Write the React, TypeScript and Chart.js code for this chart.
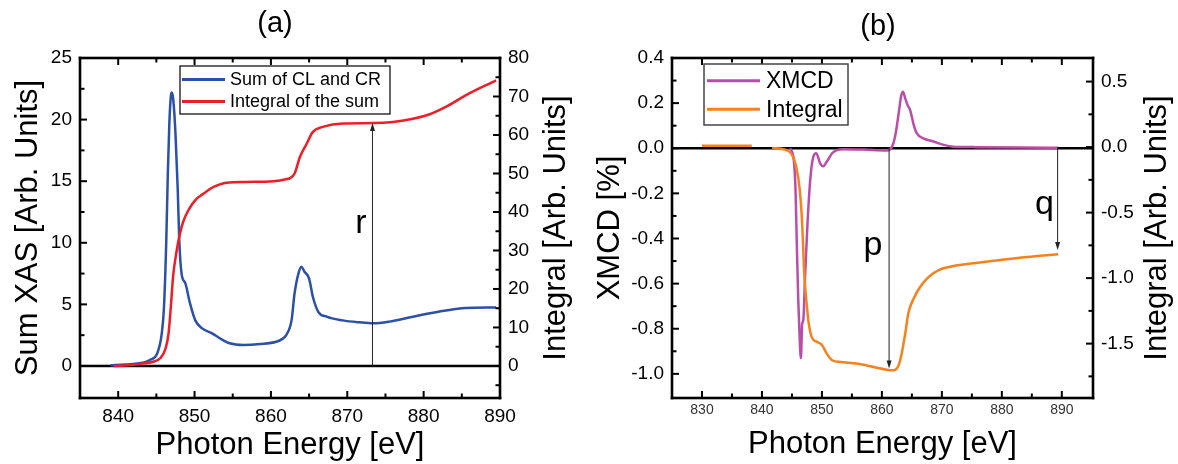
import React, { useEffect, useRef, useState } from "react";
import { Chart, registerables } from "chart.js";

Chart.register(...registerables);

const FONT = "'Liberation Sans', Arial, Helvetica, sans-serif";

// ---------------- Panel (a) data ----------------
const sumEnergy = [
  839.0, 841.0, 842.5, 843.5, 844.2, 845.1, 845.7, 846.0, 846.3, 846.5, 846.7, 846.9, 847.0,
  847.2, 847.5, 847.8, 848.0, 848.3, 848.8, 849.4, 850.1, 851.0, 852.3, 853.3, 854.6, 856.4,
  858.6, 860.7, 861.5, 862.0, 862.7, 863.1, 863.6, 864.0, 864.4, 865.0, 865.5, 866.2, 867.3,
  869.4, 871.6, 873.4, 875.5, 878.6, 882.9, 885.5, 889.5,
];
const sumXAS = [
  0.05, 0.12, 0.2, 0.3, 0.5, 1.0, 2.6, 4.8, 10.2, 15.6, 19.7, 21.9, 22.2,
  21.7, 18.9, 14.3, 10.2, 7.5, 6.7, 5.1, 3.7, 3.05, 2.65, 2.25, 1.84, 1.7,
  1.78, 1.97, 2.2, 2.5, 3.7, 5.9, 7.5, 8.05, 7.65, 7.1, 5.6, 4.4, 4.0,
  3.7, 3.54, 3.46, 3.6, 4.0, 4.5, 4.7, 4.75,
];
const sumIntEnergy = [
  839.4, 842.0, 843.5, 844.6, 845.5, 846.2, 846.6, 846.9, 847.2, 847.6, 848.0, 848.5, 849.2,
  850.1, 851.2, 852.5, 854.2, 856.8, 860.3, 862.0, 862.5, 863.1, 863.8, 864.7, 865.5, 866.8,
  869.4, 873.4, 876.0, 878.6, 880.8, 882.9, 885.5, 889.5,
];
const sumIntegral = [
  0, 0.3, 0.7, 1.1, 2.0, 4.5, 8.5, 15.5, 23.5, 29.2, 33.6, 37.4, 40.5,
  43.1, 44.8, 46.5, 47.6, 47.8, 48.0, 48.5, 48.8, 50.0, 54.3, 57.8, 60.8, 62.1,
  63.0, 63.1, 63.4, 64.2, 65.4, 67.3, 70.3, 74.2,
];

// ---------------- Panel (b) data ----------------
const xmcdEnergy = [
  844.7, 845.3, 845.6, 845.8, 846.05, 846.3, 846.5, 846.7, 846.9, 847.2, 847.6, 848.05, 848.5,
  849.05, 849.7, 850.2, 850.8, 851.7, 852.5, 853.6, 856.9, 860.8, 861.7, 862.2, 862.8, 863.2,
  863.5, 863.9, 864.3, 864.7, 865.3, 865.8, 866.9, 868.6, 870.3, 871.9, 875.3, 883.6, 889.4,
];
const xmcdValues = [
  0, -0.05, -0.185, -0.41, -0.67, -0.85, -0.93, -0.78, -0.76, -0.56, -0.33, -0.14, -0.044,
  -0.022, -0.067, -0.08, -0.06, -0.022, -0.008, -0.004, -0.006, -0.01, 0.007, 0.052, 0.155, 0.23,
  0.25, 0.22, 0.19, 0.17, 0.104, 0.067, 0.044, 0.03, 0.015, 0.007, 0.005, 0.003, 0.002,
];
const xmcdIntEnergy = [
  830.0, 838.3, 840.0, 841.7, 843.9, 845.0, 845.7, 846.3, 846.7, 847.05, 847.4, 847.8, 848.3,
  849.2, 850.0, 850.8, 851.7, 853.1, 855.8, 858.6, 860.8, 861.9, 862.8, 863.3, 863.9, 864.4,
  865.3, 866.4, 867.8, 869.4, 871.4, 875.3, 880.8, 886.4, 889.4,
];
const xmcdIntegral = [
  0.01, 0.01, null, -0.006, -0.02, -0.057, -0.147, -0.325, -0.58, -0.963, -1.17, -1.346, -1.45,
  -1.487, -1.51, -1.576, -1.627, -1.64, -1.652, -1.678, -1.7, -1.704, -1.665, -1.576, -1.42, -1.27,
  -1.155, -1.066, -0.99, -0.94, -0.913, -0.887, -0.856, -0.83, -0.818,
];

// ---------------- Ticks ----------------
const aXTicks = [840, 850, 860, 870, 880, 890];
const aXMinor = [835, 845, 855, 865, 875, 885];
const aLeftTicks = [0, 5, 10, 15, 20, 25];
const aLeftMinor = [2.5, 7.5, 12.5, 17.5, 22.5];
const aRightTicks = [0, 10, 20, 30, 40, 50, 60, 70, 80];
const aRightMinor = [-5, 5, 15, 25, 35, 45, 55, 65, 75];

const bXTicks = [830, 840, 850, 860, 870, 880, 890];
const bXMinor = [835, 845, 855, 865, 875, 885];
const bLeftTicks = [-1.0, -0.8, -0.6, -0.4, -0.2, 0.0, 0.2, 0.4];
const bLeftMinor = [-0.9, -0.7, -0.5, -0.3, -0.1, 0.1, 0.3];
const bRightTicks = [-1.5, -1.0, -0.5, 0.0, 0.5];
const bRightMinor = [-1.75, -1.25, -0.75, -0.25, 0.25];

// ---------------- Annotations (data units) ----------------
const arrowsA = [{ x: 873.3, from: 0, to: 63.1, axis: "yR" }];
const labelsA = [{ text: "r", x: 871.8, y: 10.76, axis: "yL" }];
const arrowsB = [
  { x: 861.2, from: 0, to: -1.69, axis: "yR" },
  { x: 889.3, from: 0, to: -0.785, axis: "yR" },
];
const labelsB = [
  { text: "p", x: 858.5, y: -0.82, axis: "yR" },
  { text: "q", x: 887.1, y: -0.51, axis: "yR" },
];

const BLUE = "#2b50a8";
const RED = "#ee1d27";
const MAGENTA = "#b94ea8";
const ORANGE = "#f7811f";

const zip = (xs: number[], ys: (number | null)[]) => xs.map((x, i) => ({ x, y: ys[i] }));

function tickMarks(ctx: any, a: any, scale: any, vals: number[], len: number, side: string) {
  const w = 2;
  for (let i = 0; i < vals.length; i++) {
    const p = scale.getPixelForValue(vals[i]);
    if (side === "bottom") ctx.fillRect(p - w / 2, a.bottom - len, w, len);
    else if (side === "top") ctx.fillRect(p - w / 2, a.top, w, len);
    else if (side === "left") ctx.fillRect(a.left, p - w / 2, len, w);
    else ctx.fillRect(a.right - len, p - w / 2, len, w);
  }
}

function frameRects(ctx: any, a: any) {
  const t = 2.6;
  ctx.fillStyle = "#000";
  ctx.fillRect(a.left - t / 2, a.top - t / 2, a.right - a.left + t, t);
  ctx.fillRect(a.left - t / 2, a.bottom - t / 2, a.right - a.left + t, t);
  ctx.fillRect(a.left - t / 2, a.top - t / 2, t, a.bottom - a.top + t);
  ctx.fillRect(a.right - t / 2, a.top - t / 2, t, a.bottom - a.top + t);
}

function makeDecor(spec: any) {
  return {
    id: "panelDecor",
    beforeDatasetsDraw(chart: any) {
      const ctx = chart.ctx;
      const a = chart.chartArea;
      const y0 = chart.scales.yL.getPixelForValue(0);
      ctx.save();
      ctx.fillStyle = "#000";
      ctx.fillRect(a.left, y0 - 1.25, a.right - a.left, 2.5);
      ctx.restore();
    },
    afterDatasetsDraw(chart: any) {
      const ctx = chart.ctx;
      const sx = chart.scales.x;
      ctx.save();
      for (const ar of spec.arrows) {
        const ys = chart.scales[ar.axis];
        const px = sx.getPixelForValue(ar.x);
        const p0 = ys.getPixelForValue(ar.from);
        const p1 = ys.getPixelForValue(ar.to);
        const dir = p1 < p0 ? -1 : 1;
        ctx.strokeStyle = "#222";
        ctx.lineWidth = 1;
        ctx.beginPath();
        ctx.moveTo(px, p0);
        ctx.lineTo(px, p1 - dir * 6);
        ctx.stroke();
        ctx.fillStyle = "#222";
        ctx.beginPath();
        ctx.moveTo(px, p1);
        ctx.lineTo(px - 2.5, p1 - dir * 8);
        ctx.lineTo(px + 2.5, p1 - dir * 8);
        ctx.closePath();
        ctx.fill();
      }
      ctx.fillStyle = "#000";
      ctx.font = `34px ${FONT}`;
      ctx.textAlign = "center";
      ctx.textBaseline = "alphabetic";
      for (const lb of spec.marks) {
        const ys = chart.scales[lb.axis];
        ctx.fillText(lb.text, sx.getPixelForValue(lb.x), ys.getPixelForValue(lb.y));
      }
      ctx.restore();
    },
    afterDraw(chart: any) {
      const ctx = chart.ctx;
      const a = chart.chartArea;
      ctx.save();
      frameRects(ctx, a);
      const sx = chart.scales.x;
      const sl = chart.scales.yL;
      const sr = chart.scales.yR;
      ctx.fillStyle = "#000";
      tickMarks(ctx, a, sx, spec.xT, 7, "bottom");
      tickMarks(ctx, a, sx, spec.xT, 7, "top");
      tickMarks(ctx, a, sx, spec.xM, 4.5, "bottom");
      tickMarks(ctx, a, sx, spec.xM, 4.5, "top");
      tickMarks(ctx, a, sl, spec.lT, 7, "left");
      tickMarks(ctx, a, sl, spec.lM, 4.5, "left");
      tickMarks(ctx, a, sr, spec.rT, 7, "right");
      tickMarks(ctx, a, sr, spec.rM, 4.5, "right");

      ctx.fillStyle = "#000";
      ctx.textAlign = "center";
      ctx.textBaseline = "middle";
      ctx.font = `29px ${FONT}`;
      ctx.fillText(spec.title.text, spec.title.x, spec.title.y);

      const cy = (a.top + a.bottom) / 2;
      const cx = (a.left + a.right) / 2;
      ctx.font = `31px ${FONT}`;
      ctx.textBaseline = "alphabetic";
      ctx.fillText(spec.bottomTitle.text, cx, spec.bottomTitle.y);

      ctx.save();
      ctx.translate(spec.leftTitle.x, cy);
      ctx.rotate(-Math.PI / 2);
      ctx.fillText(spec.leftTitle.text, 0, 0);
      ctx.restore();

      ctx.save();
      ctx.translate(spec.rightTitle.x, cy);
      ctx.rotate(-Math.PI / 2);
      ctx.fillText(spec.rightTitle.text, 0, 0);
      ctx.restore();

      const lg = spec.box;
      ctx.fillStyle = "#fff";
      ctx.fillRect(lg.x, lg.y, lg.w, lg.h);
      ctx.strokeStyle = lg.border;
      ctx.lineWidth = lg.borderWidth;
      ctx.strokeRect(lg.x, lg.y, lg.w, lg.h);
      ctx.font = `${lg.fontSize}px ${FONT}`;
      ctx.textAlign = "left";
      ctx.textBaseline = "middle";
      lg.items.forEach((it: any, i: number) => {
        const ry = lg.rows[i];
        ctx.strokeStyle = it.color;
        ctx.lineWidth = 3;
        ctx.beginPath();
        ctx.moveTo(lg.lineX0, ry);
        ctx.lineTo(lg.lineX1, ry);
        ctx.stroke();
        ctx.fillStyle = "#000";
        ctx.fillText(it.label, lg.textX, ry + 1);
      });
      ctx.restore();
    },
  };
}

function makeConfig(spec: any) {
  const setTicks = (vals: number[]) => (s: any) => {
    s.ticks = vals.map((v) => ({ value: v }));
  };
  return {
    type: "line",
    data: { datasets: spec.sets },
    options: {
      animation: false,
      responsive: false,
      devicePixelRatio: 1,
      events: [],
      layout: { padding: { top: 58, left: 0, right: 0, bottom: 0 } },
      plugins: {
        legend: { display: false },
        tooltip: { enabled: false },
        title: { display: false },
      },
      scales: {
        x: {
          type: "linear",
          min: spec.xMin,
          max: spec.xMax,
          afterBuildTicks: setTicks(spec.xT),
          afterFit: (s: any) => { s.height = 66; },
          grid: { display: false, drawTicks: false },
          border: { display: false },
          ticks: {
            autoSkip: false,
            maxRotation: 0,
            padding: spec.xPad,
            color: spec.xColor,
            font: { family: FONT, size: spec.xFontSize },
            callback: (v: any) => String(v),
          },
        },
        yL: {
          type: "linear",
          position: "left",
          min: spec.yLMin,
          max: spec.yLMax,
          afterBuildTicks: setTicks(spec.lT),
          afterFit: (s: any) => { s.width = spec.leftW; },
          grid: { display: false, drawTicks: false },
          border: { display: false },
          ticks: {
            autoSkip: false,
            padding: 8,
            color: "#000",
            font: { family: FONT, size: 19 },
            callback: spec.fmt,
          },
        },
        yR: {
          type: "linear",
          position: "right",
          min: spec.yRMin,
          max: spec.yRMax,
          afterBuildTicks: setTicks(spec.rT),
          afterFit: (s: any) => { s.width = spec.rightW; },
          grid: { display: false, drawTicks: false },
          border: { display: false },
          ticks: {
            autoSkip: false,
            padding: 8,
            color: "#000",
            font: { family: FONT, size: 19 },
            callback: spec.fmt,
          },
        },
      },
    },
    plugins: [makeDecor(spec)],
  };
}

const lineDs = (label: string, data: any[], color: string, axis: string) => ({
  label,
  data,
  borderColor: color,
  backgroundColor: color,
  borderWidth: 2.5,
  pointRadius: 0,
  cubicInterpolationMode: "monotone",
  spanGaps: false,
  yAxisID: axis,
});

const specA = {
  w: 590,
  leftW: 80,
  rightW: 90,
  xMin: 835,
  xMax: 890,
  yLMin: -2.6,
  yLMax: 25,
  yRMin: -8.32,
  yRMax: 80,
  xT: aXTicks,
  xM: aXMinor,
  lT: aLeftTicks,
  lM: aLeftMinor,
  rT: aRightTicks,
  rM: aRightMinor,
  xPad: 7,
  xColor: "#000",
  xFontSize: 19,
  fmt: (v: any) => String(v),
  sets: [
    lineDs("Integral of the sum", zip(sumIntEnergy, sumIntegral), RED, "yR"),
    lineDs("Sum of CL and CR", zip(sumEnergy, sumXAS), BLUE, "yL"),
  ],
  title: { text: "(a)", x: 275, y: 24 },
  bottomTitle: { text: "Photon Energy [eV]", y: 454 },
  leftTitle: { text: "Sum XAS [Arb. Units]", x: 37 },
  rightTitle: { text: "Integral [Arb. Units]", x: 565 },
  box: {
    x: 180, y: 66, w: 210, h: 48,
    border: "#000", borderWidth: 1.2,
    fontSize: 18,
    lineX0: 182, lineX1: 225, textX: 230,
    rows: [79.5, 101.5],
    items: [
      { label: "Sum of CL and CR", color: BLUE },
      { label: "Integral of the sum", color: RED },
    ],
  },
  arrows: arrowsA,
  marks: labelsA,
};

const specB = {
  w: 588,
  leftW: 82,
  rightW: 85,
  xMin: 825,
  xMax: 895.2,
  yLMin: -1.107,
  yLMax: 0.4,
  yRMin: -1.915,
  yRMax: 0.68,
  xT: bXTicks,
  xM: bXMinor,
  lT: bLeftTicks,
  lM: bLeftMinor,
  rT: bRightTicks,
  rM: bRightMinor,
  xPad: 4,
  xColor: "#333",
  xFontSize: 14,
  fmt: (v: any) => Number(v).toFixed(1),
  sets: [
    lineDs("Integral", zip(xmcdIntEnergy, xmcdIntegral), ORANGE, "yR"),
    lineDs("XMCD", zip(xmcdEnergy, xmcdValues), MAGENTA, "yL"),
  ],
  title: { text: "(b)", x: 288, y: 27 },
  bottomTitle: { text: "Photon Energy [eV]", y: 453 },
  leftTitle: { text: "XMCD [%]", x: 29 },
  rightTitle: { text: "Integral [Arb. Units]", x: 576 },
  box: {
    x: 114, y: 64, w: 144, h: 61,
    border: "#444", borderWidth: 1.5,
    fontSize: 23,
    lineX0: 117, lineX1: 170, textX: 176,
    rows: [80.7, 109.3],
    items: [
      { label: "XMCD", color: MAGENTA },
      { label: "Integral", color: ORANGE },
    ],
  },
  arrows: arrowsB,
  marks: labelsB,
};

function Panel({ spec, left }: { spec: any; left: number }) {
  const ref = useRef<HTMLCanvasElement | null>(null);
  const [area, setArea] = useState<any>(null);
  useEffect(() => {
    if (!ref.current) return;
    const chart = new Chart(ref.current, makeConfig(spec) as any);
    const a = chart.chartArea;
    setArea({ left: a.left, top: a.top, right: a.right, bottom: a.bottom });
    return () => chart.destroy();
  }, [spec]);
  const t = 2.6;
  return (
    <>
      <canvas
        ref={ref}
        width={spec.w}
        height={464}
        style={{ position: "absolute", left, top: 0, width: spec.w, height: 464, display: "block" }}
      />
      {area && (
        <div
          style={{
            position: "absolute",
            left: left + area.left - t / 2,
            top: area.top - t / 2,
            width: area.right - area.left + t,
            height: area.bottom - area.top + t,
            border: `${t}px solid #000`,
            boxSizing: "border-box",
            pointerEvents: "none",
          }}
        />
      )}
    </>
  );
}

export default function App() {
  return (
    <div style={{ position: "absolute", left: 0, top: 0, width: 1178, height: 464, background: "#fff" }}>
      <Panel spec={specA} left={0} />
      <Panel spec={specB} left={590} />
    </div>
  );
}
